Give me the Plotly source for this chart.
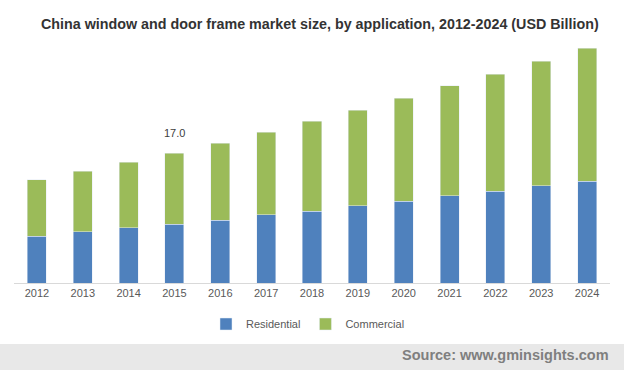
import plotly.graph_objects as go

years = ["2012", "2013", "2014", "2015", "2016", "2017", "2018",
         "2019", "2020", "2021", "2022", "2023", "2024"]
residential = [6.1, 6.7, 7.2, 7.7, 8.2, 8.9, 9.4, 10.1, 10.7, 11.4, 12.0, 12.7, 13.3]
commercial = [7.4, 7.9, 8.6, 9.3, 10.1, 10.8, 11.8, 12.5, 13.5, 14.4, 15.3, 16.3, 17.4]
label_year = "2015"
label_text = "17.0"

W, H = 624, 370
plot_top, plot_bottom = 40, 283
plot_left, plot_right = 14, 610
ph = plot_bottom - plot_top
pw = plot_right - plot_left


def py(px):
    return (plot_bottom - px) / ph


def pxr(px):
    return (px - plot_left) / pw


fig = go.Figure()
fig.add_trace(go.Bar(x=years, y=residential, name="Residential",
                     marker_color="#4f81bd", width=0.415))
fig.add_trace(go.Bar(x=years, y=commercial, name="Commercial",
                     marker_color="#9bbb59", width=0.415))

idx = years.index(label_year)
fig.add_annotation(x=idx, y=residential[idx] + commercial[idx],
                   text=label_text, showarrow=False, yanchor="middle", yshift=20,
                   font=dict(family="Liberation Sans, Arial", size=11, color="#404040"))

fig.add_annotation(xref="paper", yref="paper", x=pxr(319.5), y=py(24), xanchor="center",
                   yanchor="middle",
                   text="<b>China window and door frame market size, by application, 2012-2024 (USD Billion)</b>",
                   showarrow=False,
                   font=dict(family="Liberation Sans, Arial", size=14.3, color="#333333"))

fig.add_shape(type="rect", xref="paper", yref="paper",
              x0=pxr(0), x1=pxr(W), y0=py(344), y1=py(372),
              fillcolor="#e8e8e8", line_width=0, layer="below")
fig.add_annotation(xref="paper", yref="paper", x=pxr(611), y=py(355),
                   xanchor="right", yanchor="middle",
                   text="<b>Source: www.gminsights.com</b>", showarrow=False,
                   font=dict(family="Liberation Sans, Arial", size=14.5, color="#7f7f7f"))

total_max = 31.8
fig.update_layout(
    width=W, height=H,
    margin=dict(l=plot_left, r=W - plot_right, t=plot_top, b=H - plot_bottom, pad=0,
                autoexpand=False),
    barmode="stack",
    plot_bgcolor="white", paper_bgcolor="white",
    showlegend=True,
    legend=dict(orientation="h", x=pxr(308), xanchor="center", y=py(324), yanchor="middle",
                font=dict(family="Liberation Sans, Arial", size=11, color="#595959"),
                itemwidth=30, traceorder="normal", bgcolor="rgba(0,0,0,0)"),
    xaxis=dict(type="category", categoryorder="array", categoryarray=years,
               range=[-0.5, len(years) - 0.5], autorange=False,
               showline=True, linecolor="#d9d9d9", linewidth=1,
               ticks="", tickfont=dict(family="Liberation Sans, Arial", size=11, color="#595959"),
               showgrid=False),
    yaxis=dict(range=[0, total_max], autorange=False, visible=False, showgrid=False),
)

fig.write_html("out.html", config={"displayModeBar": False},
               post_script="document.body.style.margin='0px';document.body.style.overflow='hidden';")
